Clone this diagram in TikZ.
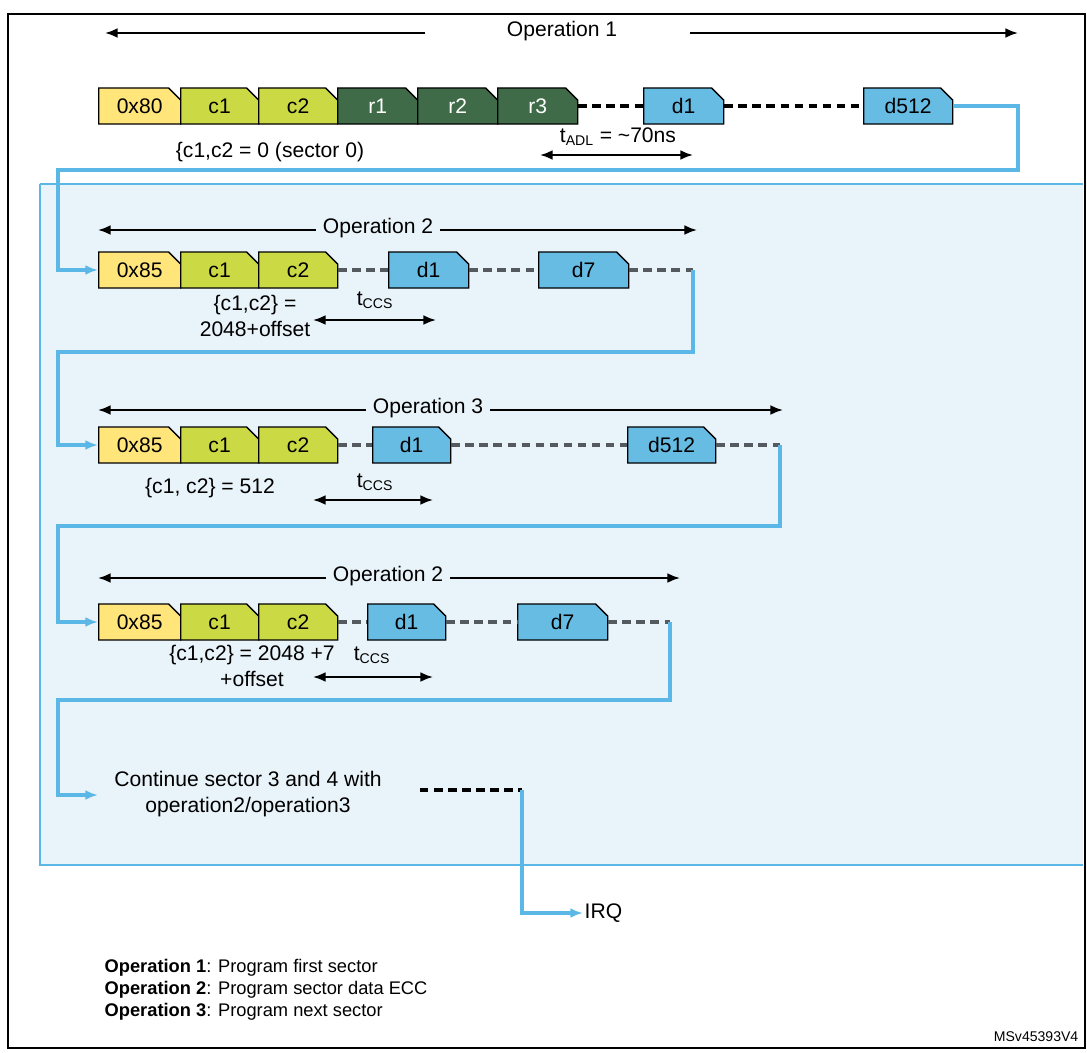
\documentclass[tikz,border=0pt]{standalone}
\usepackage{fontspec}
\setmainfont{Liberation Sans}
\usetikzlibrary{shapes.misc,arrows.meta}
\definecolor{cyel}{HTML}{FFE57A}
\definecolor{clime}{HTML}{CBD944}
\definecolor{cgreen}{HTML}{3F6B48}
\definecolor{cblue}{HTML}{67BCE4}
\definecolor{cback}{HTML}{E9F3FA}
\definecolor{cline}{HTML}{5BB8E6}
\definecolor{cdash}{HTML}{555A5E}
\tikzset{
  cell/.style={draw, line width=0.9pt, chamfered rectangle, chamfered rectangle corners=north east,
    chamfered rectangle xsep=0.15cm, chamfered rectangle ysep=0.15cm,
    minimum height=0.9cm, inner sep=0pt, anchor=west, font=\fontsize{15}{17}\selectfont},
  flow/.style={draw=cline, line width=2.2pt},
  gap/.style={dashed, line width=2.2pt, dash pattern=on 6pt off 4pt},
  span/.style={{Latex[length=9pt,width=7pt]}-{Latex[length=9pt,width=7pt]}, line width=1.4pt},
  txt/.style={font=\fontsize{15}{18}\selectfont, inner sep=1pt, align=center}
}
\begin{document}
\begin{tikzpicture}[x=0.025cm, y=-0.025cm]
  \useasboundingbox (0,0) rectangle (1087,1053);
  \draw[line width=1.2pt] (8,14) rectangle (1085,1048);
  \fill[cback] (40,184) rectangle (1083,865);
  \draw[cline, line width=1.6pt] (40,184) -- (1083,184) (40,184) -- (40,865) -- (1083,865);

  % operation 1
  \node[txt] (op1) at (562,31) {Operation 1};
  \coordinate (o1l) at (105,33);
  \coordinate (o1r) at (1018,33);
  \draw[-{Latex[length=9pt,width=7pt]}, line width=1.4pt] (425,33) -- (o1l);
  \draw[-{Latex[length=9pt,width=7pt]}, line width=1.4pt] (690,33) -- (o1r);
  \node[cell, fill=cyel, minimum width=82*0.025cm] (a0) at (98,106) {0x80};
  \node[cell, fill=clime, minimum width=78*0.025cm] (a1) at (180,106) {c1};
  \node[cell, fill=clime, minimum width=79*0.025cm] (a2) at (258,106) {c2};
  \node[cell, fill=cgreen, text=white, minimum width=80*0.025cm] (a3) at (337,106) {r1};
  \node[cell, fill=cgreen, text=white, minimum width=80*0.025cm] (a4) at (417,106) {r2};
  \node[cell, fill=cgreen, text=white, minimum width=80*0.025cm] (a5) at (497,106) {r3};
  \node[cell, fill=cblue, minimum width=80*0.025cm] (a6) at (643,106) {d1};
  \node[cell, fill=cblue, minimum width=89*0.025cm] (a7) at (863,106) {d512};
  \draw[gap] (a5.east) -- (a6.west);
  \draw[gap] (a6.east) -- (a7.west);
  \node[txt] (l1) at (270,152) {\{c1,c2 = 0 (sector 0)};
  \node[txt] (t1) at (618,137) {t\textsubscript{\fontsize{10}{11}\selectfont ADL} = \textasciitilde70ns};
  \coordinate (t1l) at (540,155);
  \coordinate (t1r) at (693,155);
  \draw[span] (t1l) -- (t1r);

  % operation 2
  \node[txt, fill=cback, inner xsep=5pt] (op2) at (378,228) {Operation 2};
  \coordinate (o2l) at (98,230);
  \coordinate (o2r) at (697,230);
  \draw[-{Latex[length=9pt,width=7pt]}, line width=1.4pt] (op2.west |- o2l) -- (o2l);
  \draw[-{Latex[length=9pt,width=7pt]}, line width=1.4pt] (op2.east |- o2r) -- (o2r);
  \node[cell, fill=cyel, minimum width=82*0.025cm] (b0) at (98,270) {0x85};
  \node[cell, fill=clime, minimum width=78*0.025cm] (b1) at (180,270) {c1};
  \node[cell, fill=clime, minimum width=79*0.025cm] (b2) at (258,270) {c2};
  \node[cell, fill=cblue, minimum width=80*0.025cm] (b3) at (388,270) {d1};
  \node[cell, fill=cblue, minimum width=90*0.025cm] (b4) at (538,270) {d7};
  \coordinate (b5) at (693,270);
  \draw[gap, cdash] (b2.east) -- (b3.west);
  \draw[gap, cdash] (b3.east) -- (b4.west);
  \draw[gap, cdash] (b4.east) -- (b5);
  \node[txt] (l2) at (255,316) {\{c1,c2\} =\\2048+offset};
  \node[txt] (t2) at (375,300) {t\textsubscript{\fontsize{10}{11}\selectfont CCS}};
  \coordinate (t2l) at (313,320);
  \coordinate (t2r) at (436,320);
  \draw[span] (t2l) -- (t2r);

  % operation 3
  \node[txt, fill=cback, inner xsep=5pt] (op3) at (428,408) {Operation 3};
  \coordinate (o3l) at (98,410);
  \coordinate (o3r) at (783,410);
  \draw[-{Latex[length=9pt,width=7pt]}, line width=1.4pt] (op3.west |- o3l) -- (o3l);
  \draw[-{Latex[length=9pt,width=7pt]}, line width=1.4pt] (op3.east |- o3r) -- (o3r);
  \node[cell, fill=cyel, minimum width=82*0.025cm] (c0) at (98,445) {0x85};
  \node[cell, fill=clime, minimum width=78*0.025cm] (c1) at (180,445) {c1};
  \node[cell, fill=clime, minimum width=79*0.025cm] (c2) at (258,445) {c2};
  \node[cell, fill=cblue, minimum width=78*0.025cm] (c3) at (372,445) {d1};
  \node[cell, fill=cblue, minimum width=88*0.025cm] (c4) at (627,445) {d512};
  \coordinate (c5) at (780,445);
  \draw[gap, cdash] (c2.east) -- (c3.west);
  \draw[gap, cdash] (c3.east) -- (c4.west);
  \draw[gap, cdash] (c4.east) -- (c5);
  \node[txt] (l3) at (210,488) {\{c1, c2\} = 512};
  \node[txt] (t3) at (375,482) {t\textsubscript{\fontsize{10}{11}\selectfont CCS}};
  \coordinate (t3l) at (313,500);
  \coordinate (t3r) at (433,500);
  \draw[span] (t3l) -- (t3r);

  % operation 2 again
  \node[txt, fill=cback, inner xsep=5pt] (op4) at (388,576) {Operation 2};
  \coordinate (o4l) at (98,578);
  \coordinate (o4r) at (680,578);
  \draw[-{Latex[length=9pt,width=7pt]}, line width=1.4pt] (op4.west |- o4l) -- (o4l);
  \draw[-{Latex[length=9pt,width=7pt]}, line width=1.4pt] (op4.east |- o4r) -- (o4r);
  \node[cell, fill=cyel, minimum width=82*0.025cm] (d0) at (98,622) {0x85};
  \node[cell, fill=clime, minimum width=78*0.025cm] (d1) at (180,622) {c1};
  \node[cell, fill=clime, minimum width=79*0.025cm] (d2) at (258,622) {c2};
  \node[cell, fill=cblue, minimum width=78*0.025cm] (d3) at (367,622) {d1};
  \node[cell, fill=cblue, minimum width=90*0.025cm] (d4) at (517,622) {d7};
  \coordinate (d5) at (670,622);
  \draw[gap, cdash] (d2.east) -- (d3.west);
  \draw[gap, cdash] (d3.east) -- (d4.west);
  \draw[gap, cdash] (d4.east) -- (d5);
  \node[txt] (l4) at (252,666) {\{c1,c2\} = 2048 +7\\+offset};
  \node[txt] (t4) at (372,655) {t\textsubscript{\fontsize{10}{11}\selectfont CCS}};
  \coordinate (t4l) at (313,677);
  \coordinate (t4r) at (433,677);
  \draw[span] (t4l) -- (t4r);

  % continue and irq
  \node[txt] (cont) at (248,794) {Continue sector 3 and 4 with\\operation2/operation3};
  \coordinate (e1) at (522,790);
  \draw[gap] (420,790) -- (e1);
  \node[txt, anchor=west] (irq) at (583,913) {IRQ};

  % flow lines
  \draw[flow, -{Latex[length=9pt,width=7pt]}] (a7.east) -| (1018,170) -| (58,270) -- (b0.west);
  \draw[flow, -{Latex[length=9pt,width=7pt]}] (b5) |- (58,352) |- (c0.west);
  \draw[flow, -{Latex[length=9pt,width=7pt]}] (c5) |- (58,526) |- (d0.west);
  \draw[flow, -{Latex[length=9pt,width=7pt]}] (d5) |- (58,700) |- (98,795);
  \draw[flow, -{Latex[length=9pt,width=7pt]}] (e1) |- (irq.west);

  % legend
  \node[txt, anchor=west, font=\fontsize{13}{15}\selectfont] (k1) at (103,968) {\textbf{Operation 1}: Program first sector};
  \node[txt, anchor=west, font=\fontsize{13}{15}\selectfont] (k2) at (103,990) {\textbf{Operation 2}: Program sector data ECC};
  \node[txt, anchor=west, font=\fontsize{13}{15}\selectfont] (k3) at (103,1012) {\textbf{Operation 3}: Program next sector};
  \node[txt, anchor=east, font=\fontsize{10}{11}\selectfont] (ref) at (1080,1037) {MSv45393V4};
\end{tikzpicture}
\end{document}
